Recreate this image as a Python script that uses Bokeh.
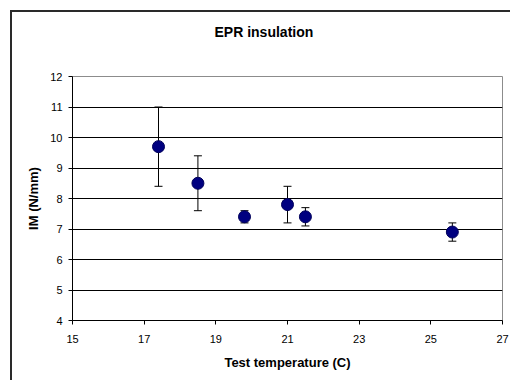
from bokeh.plotting import figure
from bokeh.layouts import column
from bokeh.models import ColumnDataSource, Whisker, TeeHead, FixedTicker, Range1d, Title
from bokeh.embed import file_html
from bokeh.resources import INLINE

# Measurements: test temperature vs. IM with error range
temperature = [17.4, 18.5, 19.8, 21.0, 21.5, 25.6]
im_mean = [9.7, 8.5, 7.4, 7.8, 7.4, 6.9]
im_upper = [11.0, 9.4, 7.6, 8.4, 7.7, 7.2]
im_lower = [8.4, 7.6, 7.2, 7.2, 7.1, 6.6]

x_ticks = [15, 17, 19, 21, 23, 25, 27]
y_ticks = [4, 5, 6, 7, 8, 9, 10, 11, 12]

FONT = "Liberation Sans"
EDGE = "#2a2a2a"

src = ColumnDataSource(dict(x=temperature, y=im_mean, upper=im_upper, lower=im_lower))

p = figure(width=510, height=380, output_backend="svg", toolbar_location=None,
           x_range=Range1d(15, 27), y_range=Range1d(4, 12),
           min_border_left=72, min_border_right=8, min_border_top=76, min_border_bottom=60,
           title="EPR insulation")
p.border_fill_alpha = 0
p.background_fill_color = "white"
p.outline_line_color = "#8c8c8c"
p.outline_line_width = 1

p.title.align = "left"
p.title.offset = 142
p.title.standoff = 30
p.title.vertical_align = "bottom"
p.title.text_font = FONT
p.title.text_font_size = "14px"
p.title.text_font_style = "bold"
p.title.text_color = "black"

# blank spacer between the title and the plot area
p.add_layout(Title(text=" ", text_font_size="2px", standoff=18), "above")

# axes
p.xaxis.ticker = FixedTicker(ticks=x_ticks)
p.yaxis.ticker = FixedTicker(ticks=y_ticks)
for ax in (p.xaxis, p.yaxis):
    ax.axis_line_color = "black"
    ax.major_tick_line_color = "black"
    ax.major_tick_in = 0
    ax.major_tick_out = 4
    ax.minor_tick_line_color = None
    ax.major_label_text_font = FONT
    ax.major_label_text_font_size = "11px"
    ax.major_label_text_color = "black"
    ax.axis_label_text_font = FONT
    ax.axis_label_text_font_size = "13px"
    ax.axis_label_text_font_style = "bold"
    ax.axis_label_text_color = "black"
p.xaxis.major_label_standoff = 10
p.yaxis.major_label_standoff = 6
p.xaxis.axis_label = "Test temperature (C)"
p.yaxis.axis_label = "IM (N/mm)"
p.xaxis.axis_label_standoff = 9
p.yaxis.axis_label_standoff = 6

p.xgrid.grid_line_color = None
p.ygrid.grid_line_color = "black"
p.ygrid.grid_line_width = 1

# error bars
whisk = Whisker(source=src, base="x", upper="upper", lower="lower", dimension="height",
                line_color="black", line_width=1, level="underlay",
                upper_head=TeeHead(size=8, line_color="black", line_width=1),
                lower_head=TeeHead(size=8, line_color="black", line_width=1))
p.add_layout(whisk)

p.scatter("x", "y", source=src, size=12, fill_color="#000080", line_color="#00005a")

# chart-area frame (left and top edges) painted behind the transparent plot border
page = column(p, width=510, height=380,
              styles={"background": (f"linear-gradient({EDGE}, {EDGE}) 10px 10px / 2px 420px no-repeat, "
                                     f"linear-gradient({EDGE}, {EDGE}) 10px 10px / 540px 2px no-repeat, "
                                     "#ffffff")})

open("out.html", "w").write(file_html(page, INLINE))
